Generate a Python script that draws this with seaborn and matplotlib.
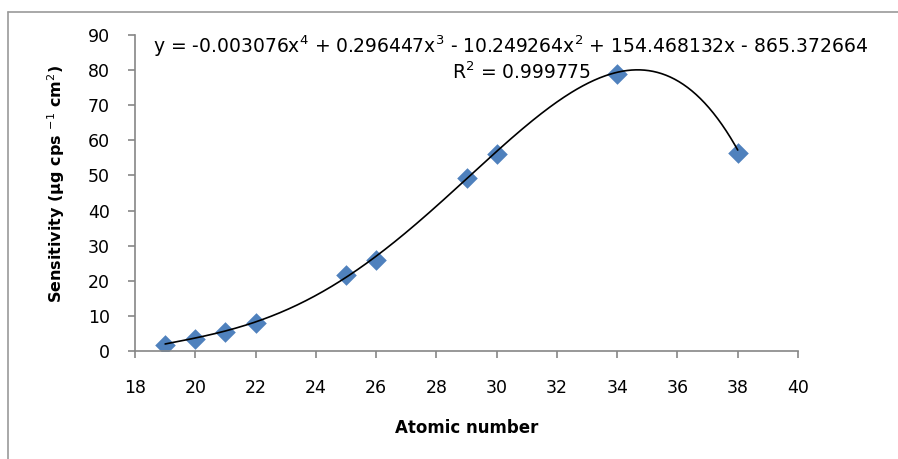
import numpy as np
import pandas as pd
import matplotlib
matplotlib.use("Agg")
import matplotlib.pyplot as plt
import seaborn as sns

# Data
atomic_number = [19, 20, 21, 22, 25, 26, 29, 30, 34, 38]
sensitivity = [1.8, 3.4, 5.4, 8.0, 21.6, 26.0, 49.2, 56.2, 78.9, 56.4]
# Trendline coefficients as shown in the chart (highest power first)
trend_coeffs = [-0.003076, 0.296447, -10.249264, 154.468132, -865.372664]
x_ticks = [18, 20, 22, 24, 26, 28, 30, 32, 34, 36, 38, 40]
y_ticks = [0, 10, 20, 30, 40, 50, 60, 70, 80, 90]

sns.set_style("white")
plt.rcParams['font.family'] = ['DejaVu Sans']
plt.rcParams['mathtext.fontset'] = 'dejavusans'
plt.rcParams['text.color'] = 'black'
plt.rcParams['axes.labelcolor'] = 'black'

fig = plt.figure(figsize=(8.98, 4.59), dpi=100)
ax = fig.add_axes([135/898, 1-351/459, (798-135)/898, (351-35)/459])

df = pd.DataFrame({"x": atomic_number, "y": sensitivity})
xs = np.linspace(min(atomic_number), max(atomic_number), 400)
trend = pd.DataFrame({"x": xs, "y": np.polyval(trend_coeffs, xs)})

sns.lineplot(data=trend, x="x", y="y", ax=ax, color="black", linewidth=1.2, zorder=3)
sns.scatterplot(data=df, x="x", y="y", ax=ax, marker="D", s=110, color="#4F81BD",
                edgecolor="#4F81BD", linewidth=0, zorder=2)

ax.set_xlim(18, 40)
ax.set_ylim(0, 90)
ax.set_xticks(x_ticks)
ax.set_yticks(y_ticks)
ax.tick_params(axis='both', which='both', direction='out', length=5, width=1.2,
               color='#868686', labelsize=12.5, labelcolor='black',
               bottom=True, left=True)
ax.tick_params(axis='x', pad=15)
ax.tick_params(axis='y', pad=13)
for s in ['top', 'right']:
    ax.spines[s].set_visible(False)
for s in ['left', 'bottom']:
    ax.spines[s].set_color('#868686')
    ax.spines[s].set_linewidth(1.2)

ax.set_xlabel("Atomic number", fontsize=12, fontweight='bold', labelpad=16, color='black')
ax.set_ylabel(r"Sensitivity (µg cps $^{-1}$ cm$^{2}$)", fontsize=11.5, fontweight='bold', labelpad=15, color='black')
ax.yaxis.label.set_y(0.53)

fig.text(511/898, 1-46/459, "y = -0.003076x$^{4}$ + 0.296447x$^{3}$ - 10.249264x$^{2}$ + 154.468132x - 865.372664",
         ha='center', va='center', fontsize=13.5, color='black')
fig.text(522/898, 1-72/459, "R$^{2}$ = 0.999775", ha='center', va='center', fontsize=13.5, color='black')

# outer chart border (left and top visible)
fig.add_artist(plt.Line2D([8/898, 8/898], [0, 1-12/459], transform=fig.transFigure, color='#9a9a9a', lw=1.2))
fig.add_artist(plt.Line2D([8/898, 1], [1-12/459, 1-12/459], transform=fig.transFigure, color='#9a9a9a', lw=1.2))

fig.savefig("out.png", dpi=100)
